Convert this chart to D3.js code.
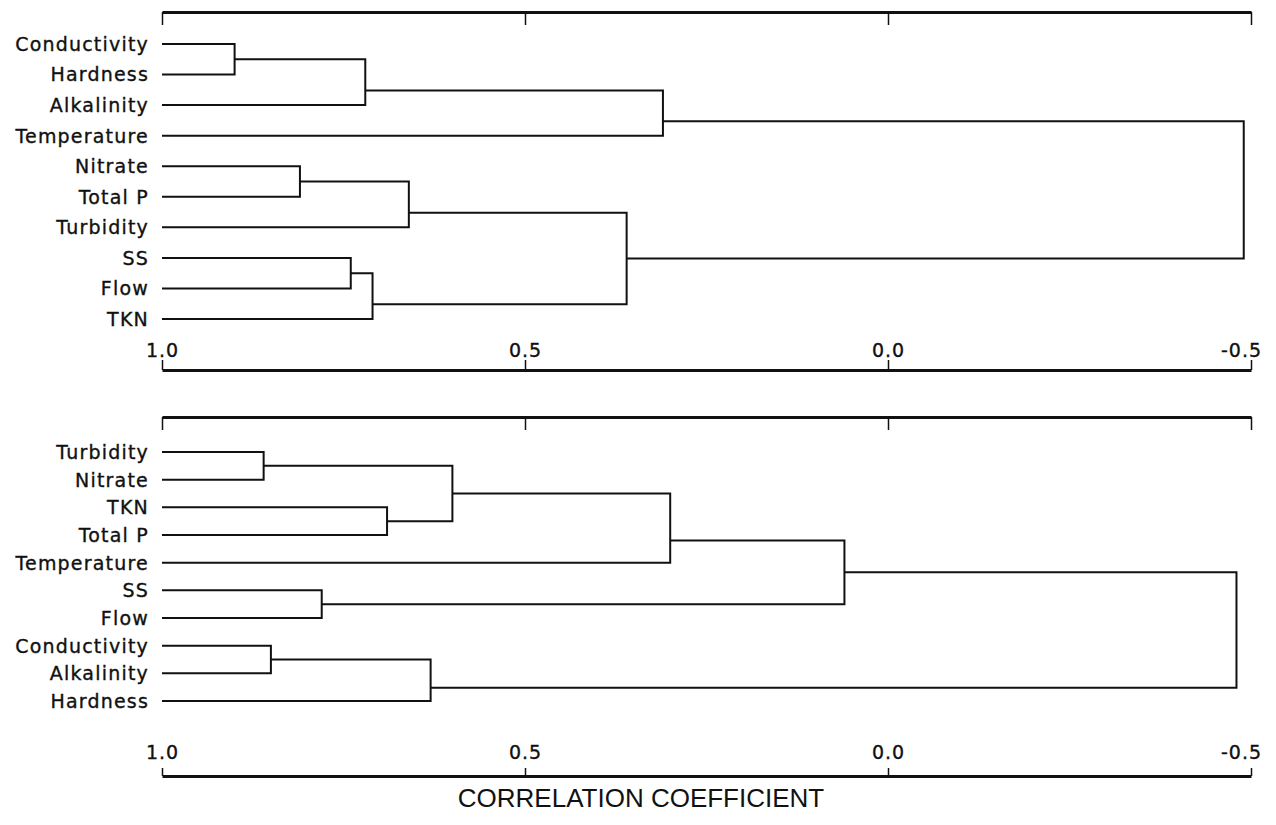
<!DOCTYPE html>
<html>
<head>
<meta charset="utf-8">
<script src="https://cdn.jsdelivr.net/npm/d3@7"></script>
<style>
  body { margin: 0; background: #fff; }
  svg { display: block; }
  .leaf { font-family: "DejaVu Sans", sans-serif; font-size: 19px; letter-spacing: 1.2px; fill: #111; stroke: #111; stroke-width: 0.35px; }
  .axis text { font-family: "DejaVu Sans", sans-serif; font-size: 19px; letter-spacing: 1px; fill: #111; stroke: #111; stroke-width: 0.35px; }
  .axis path, .axis line { stroke: #111; }
  .link { fill: none; stroke: #111; stroke-width: 2; }
</style>
</head>
<body>
<svg width="1276" height="825"></svg>
<script>
// tick values along the correlation axis
var tickValues = [1.0, 0.5, 0.0, -0.5];

// upper dendrogram: leaf order, then merges [childA, childB, r]
// children < 10 are leaves, 10+k is the cluster made by merge k
var topLeaves = ["Conductivity", "Hardness", "Alkalinity", "Temperature", "Nitrate",
                 "Total P", "Turbidity", "SS", "Flow", "TKN"];
var topMerges = [
  [0, 1, 0.90],
  [10, 2, 0.72],
  [11, 3, 0.31],
  [4, 5, 0.81],
  [13, 6, 0.66],
  [7, 8, 0.74],
  [15, 9, 0.71],
  [14, 16, 0.36],
  [12, 17, -0.49]
];

// lower dendrogram
var bottomLeaves = ["Turbidity", "Nitrate", "TKN", "Total P", "Temperature",
                    "SS", "Flow", "Conductivity", "Alkalinity", "Hardness"];
var bottomMerges = [
  [0, 1, 0.86],
  [2, 3, 0.69],
  [10, 11, 0.60],
  [12, 4, 0.30],
  [5, 6, 0.78],
  [13, 14, 0.06],
  [7, 8, 0.85],
  [16, 9, 0.63],
  [15, 17, -0.48]
];

var axisTitle = "CORRELATION COEFFICIENT";

var svg = d3.select("svg");

// x scale shared by both panels
var xScale = d3.scaleLinear().domain([1.0, -0.5]).range([162, 1251]);

// plain hyphen for negatives, like the original lettering
var fmt = function(d) { return d < 0 ? "-" + d3.format(".1f")(-d) : d3.format(".1f")(d); };

function drawPanel(leaves, merges, topY, bottomY, firstLeafY, lastLeafY, tickUp, tickDown, labelPad) {
  var g = svg.append("g");

  // frame axis on top, no labels
  g.append("g")
      .attr("class", "axis")
      .attr("transform", "translate(0," + topY + ")")
      .call(d3.axisBottom(xScale).tickValues(tickValues).tickSize(tickDown).tickSizeOuter(0).tickFormat(""))
      .call(function(a) {
        a.select(".domain").attr("stroke-width", 3);
        a.selectAll(".tick line").attr("stroke-width", 1.5);
      });

  // labelled axis underneath, ticks pointing up
  g.append("g")
      .attr("class", "axis")
      .attr("transform", "translate(0," + bottomY + ")")
      .call(d3.axisTop(xScale).tickValues(tickValues).tickSize(tickUp).tickSizeOuter(0).tickPadding(labelPad).tickFormat(fmt))
      .call(function(a) {
        a.select(".domain").attr("stroke-width", 3);
        a.selectAll(".tick line").attr("stroke-width", 1.5);
        a.attr("font-family", null).attr("font-size", null);
        // negative label sits a little left so its point lines up with the tick
        a.selectAll(".tick text").attr("dx", function(d) { return d < 0 ? -10 : 0; });
      });

  var yScale = d3.scalePoint().domain(leaves).range([firstLeafY, lastLeafY]);

  // node positions: leaves first, then clusters
  var nodes = leaves.map(function(name) {
    return { x: xScale(1.0), y: yScale(name), leaf: true };
  });
  merges.forEach(function(m) {
    var a = nodes[m[0]], b = nodes[m[1]], y;
    // the drafter set the joint nearer the single leaf when a leaf joins a cluster
    if (a.leaf && !b.leaf) y = b.y + 0.68 * (a.y - b.y);
    else if (b.leaf && !a.leaf) y = a.y + 0.68 * (b.y - a.y);
    else y = (a.y + b.y) / 2;
    nodes.push({ x: xScale(m[2]), y: y, leaf: false });
  });

  // elbow links: child horizontal into the merge, then the vertical joint
  merges.forEach(function(m) {
    var a = nodes[m[0]], b = nodes[m[1]], x = xScale(m[2]);
    g.append("path")
        .attr("class", "link")
        .attr("d", "M" + a.x + "," + a.y + "H" + x + "V" + b.y + "H" + b.x);
  });

  g.selectAll(".leaf")
    .data(leaves)
    .enter().append("text")
      .attr("class", "leaf")
      .attr("x", xScale(1.0) - 13)
      .attr("y", function(d) { return yScale(d); })
      .attr("dy", "0.36em")
      .attr("text-anchor", "end")
      .text(function(d) { return d; });
}

drawPanel(topLeaves, topMerges, 12, 370, 44, 319, 10, 13, 3);
drawPanel(bottomLeaves, bottomMerges, 417, 776, 452, 701, 8, 13, 9);

svg.append("text")
    .attr("x", 641)
    .attr("y", 807)
    .attr("text-anchor", "middle")
    .style("font-family", "'Liberation Sans', Arial, sans-serif")
    .style("font-size", "26px")
    .style("fill", "#111")
    .text(axisTitle);
</script>
</body>
</html>
